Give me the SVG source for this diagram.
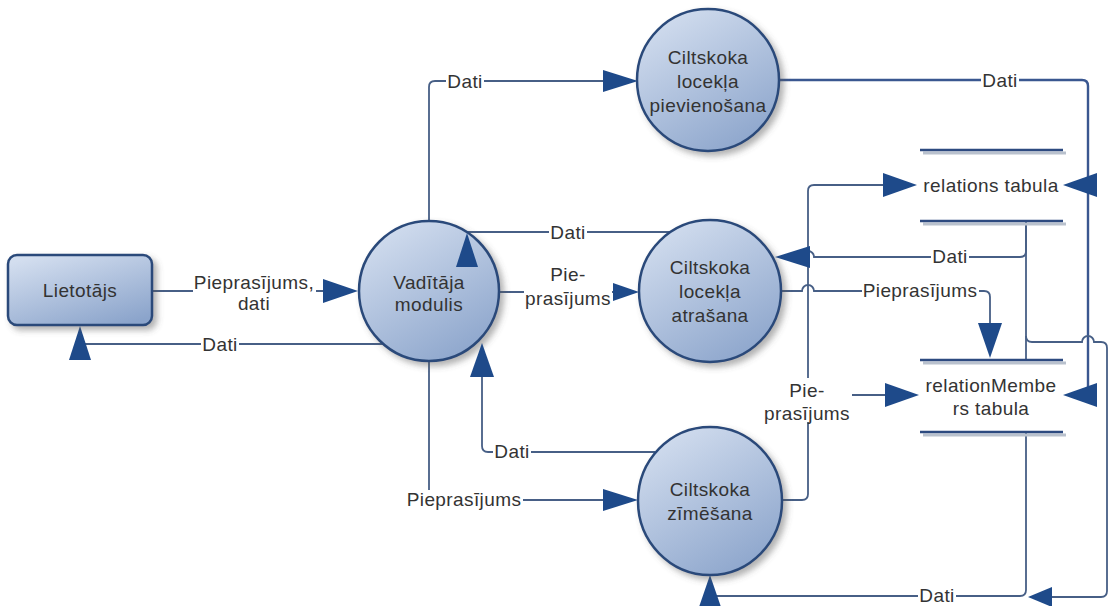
<svg xmlns="http://www.w3.org/2000/svg" width="1109" height="606" viewBox="0 0 1109 606">
<defs>
<linearGradient id="fillg" x1="0.2" y1="0" x2="0.8" y2="1">
<stop offset="0" stop-color="#d3deef"/>
<stop offset="1" stop-color="#8ba4cb"/>
</linearGradient>
<filter id="sh" x="-20%" y="-20%" width="150%" height="150%">
<feDropShadow dx="4" dy="4" stdDeviation="3" flood-color="#555" flood-opacity="0.45"/>
</filter>
<style>
.node{fill:url(#fillg);stroke:#2b4a7a;stroke-width:2.5;filter:url(#sh)}
.t{font-family:"Liberation Sans",Arial,sans-serif;font-size:19px;letter-spacing:0.4px;fill:#333;text-anchor:middle;dominant-baseline:central}
.c{fill:none;stroke:#475f86;stroke-width:1.8}
.cb{fill:none;stroke:#3a5790;stroke-width:2.4}
.ar{fill:#1e4a8a}
.bg{fill:#fff}
.st{stroke:#2d4a80;stroke-width:2.5}
.sts{stroke:#b9c1cd;stroke-width:3}
</style>
</defs>
<rect width="1109" height="606" fill="#fff"/>

<g id="connectors">
<!-- Lietotajs -> Vaditaja -->
<path class="c" d="M152,291 H323"/>
<polygon class="ar" points="358,291 323,279 323,303"/>
<!-- Vaditaja -> Lietotajs -->
<path class="c" d="M384,344 H80 V330"/>
<polygon class="ar" points="80,326 69,360 91,360"/>
<!-- Vaditaja -> pievienosana -->
<path class="c" d="M429,221 V87 Q429,81 435,81 H603"/>
<polygon class="ar" points="638,81 603,70 603,92"/>
<!-- pievienosana -> tables -->
<path class="cb" d="M778,80 H1082 Q1088,80 1088,86 V395"/>
<polygon class="ar" points="1063,185 1097,173 1097,197"/>
<polygon class="ar" points="1063,395 1097,383 1097,407"/>
<!-- atrasana -> Vaditaja -->
<path class="c" d="M670,232 H467"/>
<!-- Vaditaja -> atrasana -->
<path class="c" d="M499,292 H613"/>
<polygon class="ar" points="639,292 613,283 613,301"/>
<!-- Vaditaja -> zimesana -->
<path class="c" d="M429,362 V500 H603"/>
<polygon class="ar" points="638,500 603,489 603,511"/>
<!-- zimesana -> Vaditaja -->
<path class="c" d="M655,452 H488 Q482,452 482,446 V377"/>
<!-- zimesana -> relations -->
<path class="c" d="M782,500 H802 Q808,500 808,494 V191 Q808,185 814,185 H883"/>
<polygon class="ar" points="917,185 883,173 883,197"/>
<!-- zimesana -> relationMembers -->
<path class="c" d="M808,401 Q808,395 814,395 H885"/>
<polygon class="ar" points="919,395 885,383 885,407"/>
<!-- atrasana -> relationMembers -->
<path class="c" d="M781,291 H802 A6,6 0 0 1 814,291 H984 Q990,291 990,297 V323"/>
<polygon class="ar" points="990,358 978,323 1002,323"/>
<!-- relations -> atrasana -->
<path class="c" d="M1026,222 V251 Q1026,257 1020,257 H814 A6,6 0 0 0 802,257"/>
<polygon class="ar" points="775,257 810,246 810,268"/>
<!-- relations -> relationMembers -->
<path class="c" d="M1026,222 V359"/>
<!-- loop on right -->
<path class="c" d="M1026,336 Q1026,342 1032,342 H1082 A6,6 0 0 1 1094,342 H1101 Q1107,342 1107,348 V591 Q1107,597 1101,597 H1050"/>
<polygon class="ar" points="1028,597 1052,587 1052,607"/>
<!-- relationMembers -> zimesana -->
<path class="c" d="M1026,432 V590 Q1026,596 1020,596 H710"/>
<polygon class="ar" points="710,575 698,610 722,610"/>

<!-- labels -->
<rect class="bg" x="193" y="270" width="123" height="44"/>
<text class="t" x="254" y="282">Pieprasījums,</text>
<text class="t" x="254" y="303">dati</text>
<rect class="bg" x="201" y="334" width="38" height="20"/>
<text class="t" x="220" y="344">Dati</text>
<rect class="bg" x="446" y="71" width="38" height="20"/>
<text class="t" x="465" y="81">Dati</text>
<rect class="bg" x="981" y="70" width="38" height="20"/>
<text class="t" x="1000" y="80">Dati</text>
<rect class="bg" x="549" y="222" width="38" height="20"/>
<text class="t" x="568" y="232">Dati</text>
<rect class="bg" x="524" y="262" width="88" height="46"/>
<text class="t" x="568" y="274">Pie-</text>
<text class="t" x="568" y="298">prasījums</text>
<rect class="bg" x="406" y="490" width="117" height="20"/>
<text class="t" x="464" y="499">Pieprasījums</text>
<rect class="bg" x="493" y="442" width="38" height="20"/>
<text class="t" x="512" y="451">Dati</text>
<rect class="bg" x="762" y="378" width="90" height="44"/>
<text class="t" x="807" y="390">Pie-</text>
<text class="t" x="807" y="413">prasījums</text>
<rect class="bg" x="862" y="281" width="117" height="20"/>
<text class="t" x="920" y="290">Pieprasījums</text>
<rect class="bg" x="931" y="247" width="38" height="20"/>
<text class="t" x="950" y="256">Dati</text>
<rect class="bg" x="918" y="586" width="38" height="20"/>
<text class="t" x="937" y="595">Dati</text>
</g>

<g id="lietotajs">
<rect class="node" x="8" y="255" width="144" height="70" rx="9"/>
<text class="t" x="80" y="290">Lietotājs</text>
</g>

<g id="vaditaja">
<circle class="node" cx="429" cy="291" r="70"/>
<text class="t" x="429" y="282">Vadītāja</text>
<text class="t" x="429" y="304">modulis</text>
<!-- arrowheads drawn over the circle -->
<polygon class="ar" points="467,233 456,267 478,267"/>
<polygon class="ar" points="482,343 470,377 494,377"/>
</g>

<g id="pievienosana">
<circle class="node" cx="708" cy="80" r="71"/>
<text class="t" x="708" y="57">Ciltskoka</text>
<text class="t" x="708" y="81">locekļa</text>
<text class="t" x="708" y="105">pievienošana</text>
</g>

<g id="atrasana">
<circle class="node" cx="710" cy="291" r="71"/>
<text class="t" x="710" y="267">Ciltskoka</text>
<text class="t" x="710" y="291">locekļa</text>
<text class="t" x="710" y="315">atrašana</text>
</g>

<g id="zimesana">
<ellipse class="node" cx="710" cy="501" rx="72" ry="74"/>
<text class="t" x="710" y="489">Ciltskoka</text>
<text class="t" x="710" y="513">zīmēšana</text>
</g>

<g id="relations">
<line class="sts" x1="923" y1="153" x2="1066" y2="153"/>
<line class="sts" x1="923" y1="224" x2="1066" y2="224"/>
<line class="st" x1="920" y1="150" x2="1063" y2="150"/>
<line class="st" x1="920" y1="221" x2="1063" y2="221"/>
<text class="t" x="991" y="185">relations tabula</text>
</g>

<g id="relationMembers">
<line class="sts" x1="923" y1="363" x2="1066" y2="363"/>
<line class="sts" x1="923" y1="435" x2="1066" y2="435"/>
<line class="st" x1="920" y1="360" x2="1063" y2="360"/>
<line class="st" x1="920" y1="432" x2="1063" y2="432"/>
<text class="t" x="991" y="385">relationMembe</text>
<text class="t" x="991" y="408">rs tabula</text>
</g>
</svg>
